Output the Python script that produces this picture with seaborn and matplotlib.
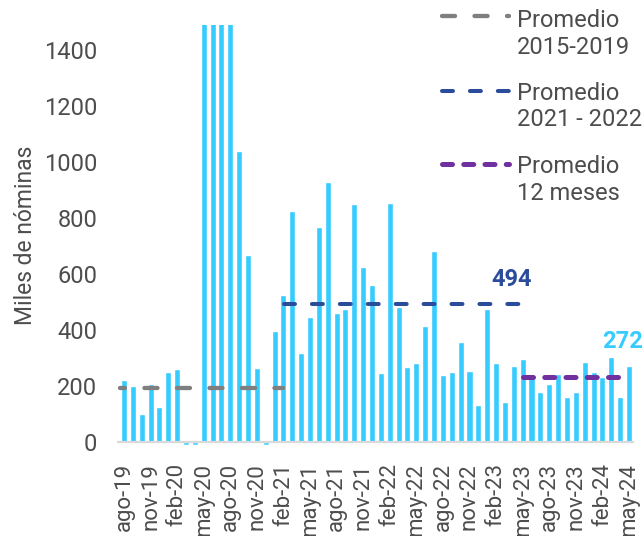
import numpy as np
import pandas as pd
import matplotlib
matplotlib.use("Agg")
import matplotlib.pyplot as plt
from matplotlib.lines import Line2D
import seaborn as sns

#Monthly data, ago-19 to may-24 (miles de nominas)
meses = ['ene', 'feb', 'mar', 'abr', 'may', 'jun', 'jul', 'ago', 'sep', 'oct', 'nov', 'dic']
periodos = [f"{meses[(7 + i) % 12]}-{19 + (7 + i) // 12}" for i in range(58)]
valores = [220, 200, 99, 206, 125,
           251, 262, -10, -10, 1500, 1500, 1500, 1500, 1040, 668, 265, -10,
           395, 524, 825, 317, 445, 769, 929, 460, 474, 850, 624, 560,
           246, 854, 483, 267, 281, 414, 683, 238, 250, 357, 254, 132,
           476, 282, 143, 273, 298, 230, 180, 206, 243, 161, 177, 286,
           250, 231, 305, 161, 272]

#Reference averages
prom_1519 = 192
prom_2122 = 494
prom_12m = 232

df = pd.DataFrame({'periodo': periodos, 'valor': valores})

sns.set_style("white")
plt.rcParams['font.family'] = ['Roboto', 'DejaVu Sans']
plt.rcParams['lines.scale_dashes'] = False

W, H = 644, 536
fig = plt.figure(figsize=(W / 100, H / 100), dpi=100)
ax = fig.add_axes([0.1815, 0.1675, 0.8034, 0.7862])

cian = '#36CCFF'
gris = '#7F7F7F'
azul = '#2B4C9B'
morado = '#7030A0'
texto = '#4D4D4D'

sns.barplot(data=df, x='periodo', y='valor', color=cian, saturation=1,
            width=0.68, ax=ax)

#Average lines
estilo_gris = dict(color=gris, lw=3.1, dash_capstyle='round')
estilo_azul = dict(color=azul, lw=2.9, dash_capstyle='round')
estilo_morado = dict(color=morado, lw=3.6, dash_capstyle='round')
ax.plot([-0.45, 17.95], [prom_1519] * 2, ls=(5.8, (9.4, 14.0)), **estilo_gris)
ax.plot([18.03, 44.61], [prom_2122] * 2, ls=(0, (7.9, 12.2)), **estilo_azul)
ax.plot([45.06, 55.84], [prom_12m] * 2, ls=(0, (7.2, 8.1)), **estilo_morado)

ax.text(43.8, 557, '494', color=azul, fontsize=17, fontweight='bold', ha='center', va='baseline')
ax.text(56.25, 336, '272', color=cian, fontsize=17, fontweight='bold', ha='center', va='baseline')

ax.set_ylim(-15, 1490)
ax.set_xlim(-0.8, 57.6)
ax.set_yticks(range(0, 1401, 200))
ax.set_xticks(range(0, 58, 3))
ax.set_xticklabels(periodos[::3], rotation=90)
ax.tick_params(axis='both', colors=texto, length=0)
ax.tick_params(axis='y', pad=14, labelsize=17)
ax.tick_params(axis='x', pad=12, labelsize=16)
ax.set_xlabel('')
ax.set_ylabel('Miles de nóminas', fontsize=16.5, color=texto, labelpad=5)
for s in ax.spines.values():
    s.set_visible(False)
ax.axhline(0, color='#D9D9D9', lw=1.6, zorder=3)

#Legend drawn by hand so the handle sits on the first text line
def px(x, y):
    return x / W, 1 - y / H

entradas = [
    (estilo_gris, (0, (9.4, 14.0)), 16, 27, ['Promedio', '2015-2019']),
    (estilo_azul, (0, (7.9, 12.2)), 91, 100, ['Promedio', '2021 - 2022']),
    (estilo_morado, (0, (7.2, 8.1)), 164, 173, ['Promedio', '12 meses']),
]
for estilo, ls, y_linea, y_base, lineas in entradas:
    x0, y0 = px(442, y_linea)
    x1, _ = px(509, y_linea)
    fig.add_artist(Line2D([x0, x1], [y0, y0], transform=fig.transFigure, ls=ls, **estilo))
    for k, linea in enumerate(lineas):
        tx, ty = px(517, y_base + 26.5 * k)
        fig.text(tx, ty, linea, fontsize=17, color=texto, ha='left', va='baseline')

fig.savefig('out.png', dpi=100)
